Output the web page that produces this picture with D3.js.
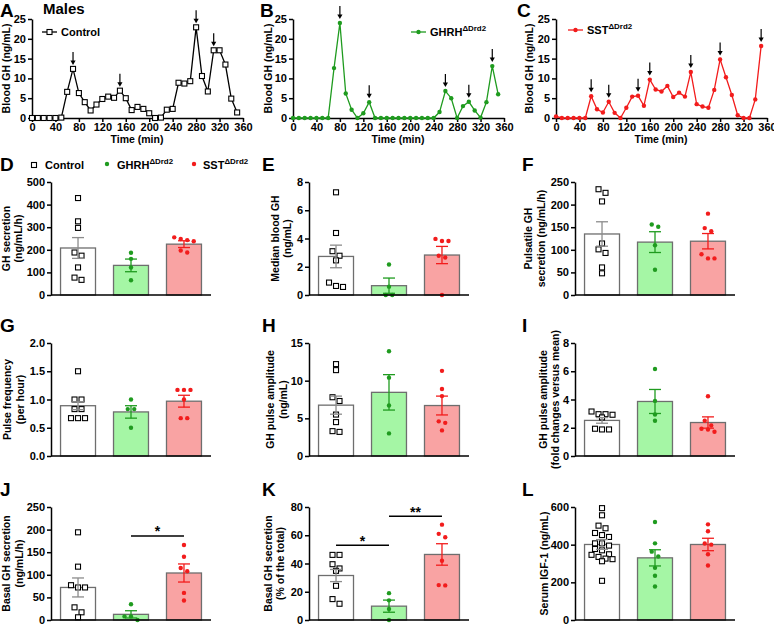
<!DOCTYPE html>
<html>
<head>
<meta charset="utf-8">
<title>GH pulsatility</title>
<script src="https://d3js.org/d3.v7.min.js"></script>
<style>
	body{ margin:0; background:#fff; }
	svg text{ font-family:"Liberation Sans", Arial, sans-serif; font-weight:bold; }
</style>
</head>
<body>
<svg id="fig" width="774" height="625"></svg>
<script>
	// ---- time course (A-C), sampling every 10 min ----
	var minutes = [0,10,20,30,40,50,60,70,80,90,100,110,120,130,140,150,160,170,180,190,200,210,220,230,240,250,260,270,280,290,300,310,320,330,340,350]
	var ctrlGH = [0,0,0,0,0,0.1,6.6,12.4,6.3,4,1.9,3.4,4.8,5.4,5.1,6.9,5,2,2.8,2.3,1.2,0,0.1,2.1,2.3,8.9,8.7,9.3,22.9,10.6,6.7,17.1,17.1,13.5,4.9,1.4]
	var ghrhGH = [0,0,0,0,0,0,0,12.6,24,6.2,2.1,0,1.2,4,0,0,0,0,0,0,0,0,0,0,0,1.5,6.8,5,0,3,4.1,1.9,0.1,4,13.1,6]
	var sstGH  = [0.4,0,0,0,0,0,5.5,2.2,1.4,4.1,1.3,0,2.6,5.4,5.6,3.1,9.7,7.2,6.7,8.1,5.3,6.4,5.4,11.6,3.5,2.9,2.6,7.1,14.8,10.3,5.8,0.7,0,0,4.7,18.2]
	var ctrlPulses = [70,150,280,310]
	var ghrhPulses = [80,130,260,300,340]
	var sstPulses  = [60,90,140,160,230,280,350]
	var timeTicks = [0,40,80,120,160,200,240,280,320,360]
	var ghTicks = [0,5,10,15,20,25]

	// ---- group summaries (D-L): individual mice, mean, SEM ----
	var groups = ["Control","GHRH","SST"]

	var secCtrl = [429,326,297,188,174,122,77,67], secGhrh = [187,160,122,65], secSst = [255,248,243,238,197,188]
	var secMean = [208,131,225], secSem = [46,28,15]

	var medCtrl = [7.27,4.39,3.1,2.78,2.45,0.88,0.64,0.57], medGhrh = [2.16,0.59,0,0], medSst = [3.97,3.82,3.82,2.78,2.66,0]
	var medMean = [2.73,0.66,2.83], medSem = [0.8,0.54,0.61]

	var pulsCtrl = [234,226,207,114,101,93,61,48], pulsGhrh = [151,156,110,56], pulsSst = [180,148,141,90,81,81]
	var pulsMean = [135,117,119], pulsSem = [27,23,17]

	var freqCtrl = [1.5,1.0,1.0,0.83,0.83,0.67,0.67,0.67], freqGhrh = [1.0,0.83,0.83,0.5], freqSst = [1.17,1.17,1.17,1.0,0.67,0.67]
	var freqMean = [0.89,0.78,0.97], freqSem = [0.07,0.11,0.105]

	var ampCtrl = [12.2,11.4,7.8,7.3,5.5,4.5,3.2,3.3], ampGhrh = [13.9,10.4,6.7,3.0], ampSst = [11.3,8.9,7.95,4.6,4.4,3.4]
	var ampMean = [6.75,8.45,6.7], ampSem = [1.2,2.35,1.25]

	var foldCtrl = [2.96,2.96,3.15,2.92,2.73,1.88,1.93,1.88], foldGhrh = [6.16,3.9,2.94,2.5], foldSst = [4.23,2.5,2.16,1.93,1.88,1.72]
	var foldMean = [2.52,3.86,2.37], foldSem = [0.2,0.85,0.4]

	var basCtrl = [194,118,77,72,72,28,17,6], basGhrh = [35,8,8,0], basSst = [166,140,115,108,60,43]
	var basMean = [72,12.5,104], basSem = [21,8,20]
	var basSig = [{a:1, b:2, at:186, label:"*"}]

	var pctCtrl = [46.1,46.1,39.5,36.5,34.8,24.2,14.8,11.5], pctGhrh = [19,13.9,7.8,0], pctSst = [67.5,61,58.6,41.9,24.5,24.7]
	var pctMean = [31.5,9.8,46.4], pctSem = [4.3,4.3,7.6]
	var pctSig = [{a:0, b:1, at:53, label:"*"}, {a:1, b:2, at:73.5, label:"**"}]

	var igfCtrl = [594,556,501,487,462,451,441,407,407,395,377,370,349,346,335,326,323,312,208]
	var igfGhrh = [520,407,363,337,277,235,178], igfSst = [508,471,406,400,349,289]
	var igfMean = [401,330,401], igfSem = [26,43,33]

	var green = "#1f9b1f", red = "#f21c1c"
	var pointColor = ["#000", green, red]
	var errColor = ["#8c8c8c", green, red]
	var barFill = ["#ffffff", "#a5f6a5", "#f9a3a3"]
	var FONT = "'Liberation Sans', Arial, sans-serif"

	var svg = d3.select("#fig")

	function styleAxis(g, size){
		g.attr("font-family", FONT).attr("font-size", size).attr("font-weight", "bold")
		g.select(".domain").attr("stroke", "#000").attr("stroke-width", 1.5)
		g.selectAll(".tick line").attr("stroke", "#000").attr("stroke-width", 1.5)
		g.selectAll(".tick text").attr("fill", "#000")
	}

	function letter(x, y, s){
		svg.append("text").attr("x", x).attr("y", y).attr("font-size", 19).text(s)
	}

	function yTitle(lines, xs, yMid){
		lines.forEach(function(s, i){
			svg.append("text").attr("transform", "translate(" + xs[i] + "," + yMid + ") rotate(-90)")
				.attr("text-anchor", "middle").attr("font-size", 10.5).text(s)
		})
	}

	function supText(x, y, main, sup, size){
		var t = svg.append("text").attr("x", x).attr("y", y).attr("font-size", size)
		t.append("tspan").text(main)
		if(sup) t.append("tspan").attr("dy", -5).attr("font-size", size * 0.72).text(sup)
	}

	function marker(g, kind, cx, cy, col){
		if(kind == "square"){
			g.append("rect").attr("x", cx - 2.5).attr("y", cy - 2.5).attr("width", 5).attr("height", 5)
				.attr("fill", "#fff").attr("stroke", "#000").attr("stroke-width", 1.1)
		}else{
			g.append("circle").attr("cx", cx).attr("cy", cy).attr("r", 2.2).attr("fill", col)
		}
	}

	// ---------- time course panels ----------
	function timePanel(o){
		var x = d3.scaleLinear().domain([0, 360]).range([o.x0, o.x0 + 211])
		var y = d3.scaleLinear().domain([0, 25]).range([118, 19])
		var g = svg.append("g")

		var ax = g.append("g").attr("transform", "translate(0,118)")
			.call(d3.axisBottom(x).tickValues(timeTicks).tickSize(4).tickSizeOuter(0).tickPadding(1.5))
		styleAxis(ax, 11)
		var ay = g.append("g").attr("transform", "translate(" + o.x0 + ",0)")
			.call(d3.axisLeft(y).tickValues(ghTicks).tickSize(4).tickSizeOuter(0).tickPadding(2))
		styleAxis(ay, 11)

		var line = d3.line().x(function(d, i){ return x(minutes[i]) }).y(function(d){ return y(d) })
		g.append("path").datum(o.values).attr("d", line).attr("fill", "none")
			.attr("stroke", o.color).attr("stroke-width", 1.3)
		o.values.forEach(function(v, i){ marker(g, o.kind, x(minutes[i]), y(v), o.color) })

		o.pulses.forEach(function(t){
			var v = o.values[minutes.indexOf(t)]
			var tip = y(v) - 4, cx = x(t)
			g.append("line").attr("x1", cx).attr("x2", cx).attr("y1", tip - 13).attr("y2", tip - 3)
				.attr("stroke", "#000").attr("stroke-width", 1.2)
			g.append("path").attr("d", "M" + (cx - 2.6) + "," + (tip - 4.5) + "L" + (cx + 2.6) + "," + (tip - 4.5) + "L" + cx + "," + tip + "Z")
				.attr("fill", "#000")
		})

		// legend
		g.append("line").attr("x1", o.legX).attr("x2", o.legX + 15).attr("y1", o.legY).attr("y2", o.legY)
			.attr("stroke", o.color).attr("stroke-width", 1.3)
		marker(g, o.kind, o.legX + 7.5, o.legY, o.color)
		supText(o.legX + 19, o.legY + 4, o.name, o.sup, 11)

		svg.append("text").attr("x", o.x0 + 105).attr("y", 143).attr("text-anchor", "middle")
			.attr("font-size", 10.5).text("Time (min)")
		yTitle(["Blood GH (ng/mL)"], [o.titleX], 68.5)
	}

	timePanel({x0:32, values:ctrlGH, pulses:ctrlPulses, color:"#000", kind:"square", legX:42, legY:32, name:"Control", sup:"", titleX:10})
	timePanel({x0:293, values:ghrhGH, pulses:ghrhPulses, color:green, kind:"dot", legX:411, legY:32, name:"GHRH", sup:"\u0394Drd2", titleX:272})
	timePanel({x0:556, values:sstGH, pulses:sstPulses, color:red, kind:"dot", legX:568, legY:30, name:"SST", sup:"\u0394Drd2", titleX:533})

	letter(0, 17, "A"); letter(260, 17, "B"); letter(517, 17, "C")
	svg.append("text").attr("x", 43).attr("y", 14).attr("font-size", 15).text("Males")

	// ---------- bar + scatter panels ----------
	// spread overlapping points horizontally, centred on the bar (beeswarm-like rows)
	function spread(vals, y, gap){
		var idx = vals.map(function(v, i){ return i }).sort(function(a, b){ return y(vals[a]) - y(vals[b]) })
		var off = vals.map(function(){ return 0 })
		var i = 0
		while(i < idx.length){
			var j = i, start = y(vals[idx[i]])
			while(j + 1 < idx.length && y(vals[idx[j + 1]]) - start < gap - 1.5) j++
			var n = j - i + 1
			for(var k = 0; k < n; k++) off[idx[i + k]] = (k - (n - 1) / 2) * gap
			i = j + 1
		}
		return off
	}

	function barPanel(o){
		var x = d3.scaleBand().domain([0, 1, 2]).range([o.x0, o.x0 + 160]).paddingInner(0.34).paddingOuter(0.18)
		var y = d3.scaleLinear().domain([0, o.max]).range([o.yb, o.yb - 113])
		var bw = x.bandwidth()
		var g = svg.append("g")

		groups.forEach(function(name, gi){
			g.append("rect").attr("x", x(gi)).attr("width", bw)
				.attr("y", y(o.mean[gi])).attr("height", o.yb - y(o.mean[gi]))
				.attr("fill", barFill[gi]).attr("stroke", "#6e6e6e").attr("stroke-width", 1.3)
		})

		groups.forEach(function(name, gi){
			var cx = x(gi) + bw / 2
			var vals = o.points[gi]
			var off = spread(vals, y, gi == 0 ? 7 : 6.5)
			vals.forEach(function(v, i){ marker(g, gi == 0 ? "square" : "dot", cx + off[i], y(v), pointColor[gi]) })

			var lo = y(o.mean[gi] - o.sem[gi]), hi = y(o.mean[gi] + o.sem[gi])
			g.append("line").attr("x1", cx).attr("x2", cx).attr("y1", lo).attr("y2", hi)
				.attr("stroke", errColor[gi]).attr("stroke-width", 1.3)
			;[lo, hi].forEach(function(yy){
				g.append("line").attr("x1", cx - 6).attr("x2", cx + 6).attr("y1", yy).attr("y2", yy)
					.attr("stroke", errColor[gi]).attr("stroke-width", 1.3)
			})
		})

		var ay = g.append("g").attr("transform", "translate(" + o.x0 + ",0)")
			.call(d3.axisLeft(y).tickValues(o.ticks).tickFormat(o.fmt || d3.format("d")).tickSize(4).tickSizeOuter(0).tickPadding(2))
		styleAxis(ay, 11)
		g.append("line").attr("x1", o.x0).attr("x2", o.x0 + 160).attr("y1", o.yb).attr("y2", o.yb)
			.attr("stroke", "#000").attr("stroke-width", 1.5)

		;(o.sig || []).forEach(function(s){
			var yy = y(s.at)
			g.append("line").attr("x1", x(s.a) + bw / 2).attr("x2", x(s.b) + bw / 2).attr("y1", yy).attr("y2", yy)
				.attr("stroke", "#000").attr("stroke-width", 1.5)
			g.append("text").attr("x", (x(s.a) + x(s.b) + bw) / 2).attr("y", yy + 0.5)
				.attr("text-anchor", "middle").attr("font-size", 14).text(s.label)
		})

		yTitle(o.title, o.titleX, o.yb - 56.5)
	}

	var c1 = 51, c2 = 309, c3 = 575
	var r1 = 295, r2 = 456, r3 = 620

	barPanel({x0:c1, yb:r1, max:500, ticks:[0,100,200,300,400,500], points:[secCtrl, secGhrh, secSst], mean:secMean, sem:secSem,
		title:["GH secretion", "(ng/mL/h)"], titleX:[10, 22]})
	barPanel({x0:c2, yb:r1, max:8, ticks:[0,2,4,6,8], points:[medCtrl, medGhrh, medSst], mean:medMean, sem:medSem,
		title:["Median blood GH", "(ng/mL)"], titleX:[279, 291]})
	barPanel({x0:c3, yb:r1, max:250, ticks:[0,50,100,150,200,250], points:[pulsCtrl, pulsGhrh, pulsSst], mean:pulsMean, sem:pulsSem,
		title:["Pulsatile GH", "secretion (ng/mL/h)"], titleX:[532, 545]})

	barPanel({x0:c1, yb:r2, max:2, ticks:[0,0.5,1,1.5,2], fmt:d3.format(".1f"), points:[freqCtrl, freqGhrh, freqSst], mean:freqMean, sem:freqSem,
		title:["Pulse frequency", "(per hour)"], titleX:[11, 24]})
	barPanel({x0:c2, yb:r2, max:15, ticks:[0,5,10,15], points:[ampCtrl, ampGhrh, ampSst], mean:ampMean, sem:ampSem,
		title:["GH pulse amplitude", "(ng/mL)"], titleX:[274, 287]})
	barPanel({x0:c3, yb:r2, max:8, ticks:[0,2,4,6,8], points:[foldCtrl, foldGhrh, foldSst], mean:foldMean, sem:foldSem,
		title:["GH pulse amplitude", "(fold changes versus mean)"], titleX:[547, 559]})

	barPanel({x0:c1, yb:r3, max:250, ticks:[0,50,100,150,200,250], points:[basCtrl, basGhrh, basSst], mean:basMean, sem:basSem, sig:basSig,
		title:["Basal GH secretion", "(ng/mL/h)"], titleX:[10, 23]})
	barPanel({x0:c2, yb:r3, max:80, ticks:[0,20,40,60,80], points:[pctCtrl, pctGhrh, pctSst], mean:pctMean, sem:pctSem, sig:pctSig,
		title:["Basal GH secretion", "(% of the total)"], titleX:[272, 284]})
	barPanel({x0:c3, yb:r3, max:600, ticks:[0,200,400,600], points:[igfCtrl, igfGhrh, igfSst], mean:igfMean, sem:igfSem,
		title:["Serum IGF-1 (ng/mL)"], titleX:[548]})

	letter(0, 171, "D"); letter(262, 171, "E"); letter(522, 171, "F")
	letter(0, 332, "G"); letter(262, 332, "H"); letter(522, 332, "I")
	letter(0, 496, "J"); letter(262, 496, "K"); letter(522, 496, "L")

	// group legend (row D)
	var lg = svg.append("g")
	marker(lg, "square", 34, 165, "#000")
	supText(45, 169, "Control", "", 11)
	marker(lg, "dot", 107, 164, green)
	supText(117, 169, "GHRH", "\u0394Drd2", 11)
	marker(lg, "dot", 194, 164, red)
	supText(203, 169, "SST", "\u0394Drd2", 11)
</script>
</body>
</html>
